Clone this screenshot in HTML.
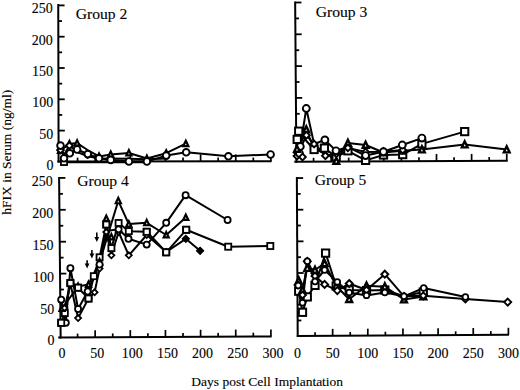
<!DOCTYPE html>
<html><head><meta charset="utf-8"><style>
html,body{margin:0;padding:0;background:#fff;}
body{width:520px;height:390px;overflow:hidden;}
svg{display:block;font-family:"Liberation Serif",serif;}
text{stroke:#000;stroke-width:0.12px;}
text.n{stroke-width:0.12px;}
</style></head><body>
<svg width="520" height="390" viewBox="0 0 520 390">
<line x1="58.25" y1="4.1" x2="58.6" y2="162.45" stroke="#000" stroke-width="2.0"/>
<line x1="57.4" y1="161.45" x2="271.6" y2="161.35" stroke="#000" stroke-width="2.0"/>
<line x1="58.57" y1="146.25" x2="62.27" y2="146.25" stroke="#000" stroke-width="1.8"/>
<line x1="58.53" y1="130.60" x2="64.83" y2="130.60" stroke="#000" stroke-width="1.8"/>
<line x1="58.50" y1="114.95" x2="62.20" y2="114.95" stroke="#000" stroke-width="1.8"/>
<line x1="58.46" y1="99.30" x2="64.76" y2="99.30" stroke="#000" stroke-width="1.8"/>
<line x1="58.43" y1="83.65" x2="62.13" y2="83.65" stroke="#000" stroke-width="1.8"/>
<line x1="58.39" y1="68.00" x2="64.69" y2="68.00" stroke="#000" stroke-width="1.8"/>
<line x1="58.36" y1="52.35" x2="62.06" y2="52.35" stroke="#000" stroke-width="1.8"/>
<line x1="58.32" y1="36.70" x2="64.62" y2="36.70" stroke="#000" stroke-width="1.8"/>
<line x1="58.29" y1="21.05" x2="61.99" y2="21.05" stroke="#000" stroke-width="1.8"/>
<line x1="58.25" y1="5.40" x2="64.55" y2="5.40" stroke="#000" stroke-width="1.8"/>
<line x1="77.58" y1="161.44" x2="77.58" y2="157.64" stroke="#000" stroke-width="1.7"/>
<line x1="95.15" y1="161.43" x2="95.15" y2="154.43" stroke="#000" stroke-width="1.7"/>
<line x1="112.72" y1="161.42" x2="112.72" y2="157.62" stroke="#000" stroke-width="1.7"/>
<line x1="130.30" y1="161.42" x2="130.30" y2="154.42" stroke="#000" stroke-width="1.7"/>
<line x1="147.88" y1="161.41" x2="147.88" y2="157.61" stroke="#000" stroke-width="1.7"/>
<line x1="165.45" y1="161.40" x2="165.45" y2="154.40" stroke="#000" stroke-width="1.7"/>
<line x1="183.02" y1="161.39" x2="183.02" y2="157.59" stroke="#000" stroke-width="1.7"/>
<line x1="200.60" y1="161.38" x2="200.60" y2="154.38" stroke="#000" stroke-width="1.7"/>
<line x1="218.17" y1="161.37" x2="218.17" y2="157.57" stroke="#000" stroke-width="1.7"/>
<line x1="235.75" y1="161.37" x2="235.75" y2="154.37" stroke="#000" stroke-width="1.7"/>
<line x1="253.32" y1="161.36" x2="253.32" y2="157.56" stroke="#000" stroke-width="1.7"/>
<line x1="270.90" y1="161.35" x2="270.90" y2="154.35" stroke="#000" stroke-width="1.7"/>
<text class="n" x="53.50" y="169.90" text-anchor="end" font-size="14">0</text>
<text class="n" x="53.34" y="138.60" text-anchor="end" font-size="14">50</text>
<text class="n" x="53.18" y="107.30" text-anchor="end" font-size="14">100</text>
<text class="n" x="53.02" y="76.00" text-anchor="end" font-size="14">150</text>
<text class="n" x="52.86" y="44.70" text-anchor="end" font-size="14">200</text>
<text class="n" x="52.70" y="13.40" text-anchor="end" font-size="14">250</text>
<line x1="295.15" y1="1.5" x2="296.4" y2="162.7" stroke="#000" stroke-width="2.0"/>
<line x1="294.3" y1="161.7" x2="507.7" y2="160.75" stroke="#000" stroke-width="2.0"/>
<line x1="296.27" y1="145.60" x2="299.97" y2="145.60" stroke="#000" stroke-width="1.8"/>
<line x1="296.15" y1="129.70" x2="302.45" y2="129.70" stroke="#000" stroke-width="1.8"/>
<line x1="296.02" y1="113.80" x2="299.72" y2="113.80" stroke="#000" stroke-width="1.8"/>
<line x1="295.90" y1="97.90" x2="302.20" y2="97.90" stroke="#000" stroke-width="1.8"/>
<line x1="295.77" y1="82.00" x2="299.47" y2="82.00" stroke="#000" stroke-width="1.8"/>
<line x1="295.65" y1="66.10" x2="301.95" y2="66.10" stroke="#000" stroke-width="1.8"/>
<line x1="295.52" y1="50.20" x2="299.22" y2="50.20" stroke="#000" stroke-width="1.8"/>
<line x1="295.40" y1="34.30" x2="301.70" y2="34.30" stroke="#000" stroke-width="1.8"/>
<line x1="295.27" y1="18.40" x2="298.97" y2="18.40" stroke="#000" stroke-width="1.8"/>
<line x1="295.15" y1="2.50" x2="301.45" y2="2.50" stroke="#000" stroke-width="1.8"/>
<line x1="313.56" y1="161.61" x2="313.56" y2="157.81" stroke="#000" stroke-width="1.7"/>
<line x1="331.12" y1="161.54" x2="331.12" y2="154.54" stroke="#000" stroke-width="1.7"/>
<line x1="348.69" y1="161.46" x2="348.69" y2="157.66" stroke="#000" stroke-width="1.7"/>
<line x1="366.25" y1="161.38" x2="366.25" y2="154.38" stroke="#000" stroke-width="1.7"/>
<line x1="383.81" y1="161.30" x2="383.81" y2="157.50" stroke="#000" stroke-width="1.7"/>
<line x1="401.38" y1="161.22" x2="401.38" y2="154.22" stroke="#000" stroke-width="1.7"/>
<line x1="418.94" y1="161.15" x2="418.94" y2="157.35" stroke="#000" stroke-width="1.7"/>
<line x1="436.50" y1="161.07" x2="436.50" y2="154.07" stroke="#000" stroke-width="1.7"/>
<line x1="454.06" y1="160.99" x2="454.06" y2="157.19" stroke="#000" stroke-width="1.7"/>
<line x1="471.62" y1="160.91" x2="471.62" y2="153.91" stroke="#000" stroke-width="1.7"/>
<line x1="489.19" y1="160.83" x2="489.19" y2="157.03" stroke="#000" stroke-width="1.7"/>
<line x1="506.75" y1="160.75" x2="506.75" y2="153.75" stroke="#000" stroke-width="1.7"/>
<line x1="59.1" y1="176.9" x2="60.65" y2="338.5" stroke="#000" stroke-width="2.0"/>
<line x1="58.2" y1="337.5" x2="271.6" y2="336.4" stroke="#000" stroke-width="2.0"/>
<line x1="60.49" y1="321.45" x2="64.19" y2="321.45" stroke="#000" stroke-width="1.8"/>
<line x1="60.34" y1="305.50" x2="66.64" y2="305.50" stroke="#000" stroke-width="1.8"/>
<line x1="60.18" y1="289.55" x2="63.88" y2="289.55" stroke="#000" stroke-width="1.8"/>
<line x1="60.03" y1="273.60" x2="66.33" y2="273.60" stroke="#000" stroke-width="1.8"/>
<line x1="59.87" y1="257.65" x2="63.57" y2="257.65" stroke="#000" stroke-width="1.8"/>
<line x1="59.72" y1="241.70" x2="66.02" y2="241.70" stroke="#000" stroke-width="1.8"/>
<line x1="59.56" y1="225.75" x2="63.26" y2="225.75" stroke="#000" stroke-width="1.8"/>
<line x1="59.41" y1="209.80" x2="65.71" y2="209.80" stroke="#000" stroke-width="1.8"/>
<line x1="59.25" y1="193.85" x2="62.95" y2="193.85" stroke="#000" stroke-width="1.8"/>
<line x1="59.10" y1="177.90" x2="65.40" y2="177.90" stroke="#000" stroke-width="1.8"/>
<line x1="77.58" y1="337.40" x2="77.58" y2="333.60" stroke="#000" stroke-width="1.7"/>
<line x1="95.15" y1="337.31" x2="95.15" y2="330.31" stroke="#000" stroke-width="1.7"/>
<line x1="112.72" y1="337.22" x2="112.72" y2="333.42" stroke="#000" stroke-width="1.7"/>
<line x1="130.30" y1="337.13" x2="130.30" y2="330.13" stroke="#000" stroke-width="1.7"/>
<line x1="147.88" y1="337.04" x2="147.88" y2="333.24" stroke="#000" stroke-width="1.7"/>
<line x1="165.45" y1="336.95" x2="165.45" y2="329.95" stroke="#000" stroke-width="1.7"/>
<line x1="183.02" y1="336.86" x2="183.02" y2="333.06" stroke="#000" stroke-width="1.7"/>
<line x1="200.60" y1="336.77" x2="200.60" y2="329.77" stroke="#000" stroke-width="1.7"/>
<line x1="218.17" y1="336.68" x2="218.17" y2="332.88" stroke="#000" stroke-width="1.7"/>
<line x1="235.75" y1="336.58" x2="235.75" y2="329.58" stroke="#000" stroke-width="1.7"/>
<line x1="253.32" y1="336.49" x2="253.32" y2="332.69" stroke="#000" stroke-width="1.7"/>
<line x1="270.90" y1="336.40" x2="270.90" y2="329.40" stroke="#000" stroke-width="1.7"/>
<text class="n" x="54.60" y="345.40" text-anchor="end" font-size="14">0</text>
<text class="n" x="54.24" y="313.50" text-anchor="end" font-size="14">50</text>
<text class="n" x="53.88" y="281.60" text-anchor="end" font-size="14">100</text>
<text class="n" x="53.52" y="249.70" text-anchor="end" font-size="14">150</text>
<text class="n" x="53.16" y="217.80" text-anchor="end" font-size="14">200</text>
<text class="n" x="52.80" y="185.90" text-anchor="end" font-size="14">250</text>
<line x1="296.85" y1="177.0" x2="297.7" y2="337.1" stroke="#000" stroke-width="2.0"/>
<line x1="296.8" y1="336.1" x2="509.0" y2="334.8" stroke="#000" stroke-width="2.0"/>
<line x1="297.62" y1="320.48" x2="301.32" y2="320.48" stroke="#000" stroke-width="1.8"/>
<line x1="297.53" y1="304.65" x2="303.83" y2="304.65" stroke="#000" stroke-width="1.8"/>
<line x1="297.45" y1="288.82" x2="301.15" y2="288.82" stroke="#000" stroke-width="1.8"/>
<line x1="297.36" y1="273.00" x2="303.66" y2="273.00" stroke="#000" stroke-width="1.8"/>
<line x1="297.28" y1="257.18" x2="300.98" y2="257.18" stroke="#000" stroke-width="1.8"/>
<line x1="297.19" y1="241.35" x2="303.49" y2="241.35" stroke="#000" stroke-width="1.8"/>
<line x1="297.11" y1="225.53" x2="300.81" y2="225.53" stroke="#000" stroke-width="1.8"/>
<line x1="297.02" y1="209.70" x2="303.32" y2="209.70" stroke="#000" stroke-width="1.8"/>
<line x1="296.94" y1="193.88" x2="300.64" y2="193.88" stroke="#000" stroke-width="1.8"/>
<line x1="296.85" y1="178.05" x2="303.15" y2="178.05" stroke="#000" stroke-width="1.8"/>
<line x1="315.07" y1="335.99" x2="315.07" y2="332.19" stroke="#000" stroke-width="1.7"/>
<line x1="332.65" y1="335.88" x2="332.65" y2="328.88" stroke="#000" stroke-width="1.7"/>
<line x1="350.23" y1="335.77" x2="350.23" y2="331.97" stroke="#000" stroke-width="1.7"/>
<line x1="367.80" y1="335.67" x2="367.80" y2="328.67" stroke="#000" stroke-width="1.7"/>
<line x1="385.38" y1="335.56" x2="385.38" y2="331.76" stroke="#000" stroke-width="1.7"/>
<line x1="402.95" y1="335.45" x2="402.95" y2="328.45" stroke="#000" stroke-width="1.7"/>
<line x1="420.52" y1="335.34" x2="420.52" y2="331.54" stroke="#000" stroke-width="1.7"/>
<line x1="438.10" y1="335.23" x2="438.10" y2="328.23" stroke="#000" stroke-width="1.7"/>
<line x1="455.67" y1="335.13" x2="455.67" y2="331.33" stroke="#000" stroke-width="1.7"/>
<line x1="473.25" y1="335.02" x2="473.25" y2="328.02" stroke="#000" stroke-width="1.7"/>
<line x1="490.82" y1="334.91" x2="490.82" y2="331.11" stroke="#000" stroke-width="1.7"/>
<line x1="508.40" y1="334.80" x2="508.40" y2="327.80" stroke="#000" stroke-width="1.7"/>
<text class="n" x="62.00" y="357.8" text-anchor="middle" font-size="14">0</text>
<text class="n" x="97.15" y="357.8" text-anchor="middle" font-size="14">50</text>
<text class="n" x="132.30" y="357.8" text-anchor="middle" font-size="14">100</text>
<text class="n" x="167.45" y="357.8" text-anchor="middle" font-size="14">150</text>
<text class="n" x="202.60" y="357.8" text-anchor="middle" font-size="14">200</text>
<text class="n" x="237.75" y="357.8" text-anchor="middle" font-size="14">250</text>
<text class="n" x="272.90" y="357.8" text-anchor="middle" font-size="14">300</text>
<text class="n" x="297.50" y="357.6" text-anchor="middle" font-size="14">0</text>
<text class="n" x="332.65" y="357.6" text-anchor="middle" font-size="14">50</text>
<text class="n" x="367.80" y="357.6" text-anchor="middle" font-size="14">100</text>
<text class="n" x="402.95" y="357.6" text-anchor="middle" font-size="14">150</text>
<text class="n" x="438.10" y="357.6" text-anchor="middle" font-size="14">200</text>
<text class="n" x="473.25" y="357.6" text-anchor="middle" font-size="14">250</text>
<text class="n" x="508.40" y="357.6" text-anchor="middle" font-size="14">300</text>
<text x="75.8" y="18.6" font-size="15.6">Group 2</text>
<text x="315.7" y="16.7" font-size="15.6">Group 3</text>
<text x="77.2" y="186.2" font-size="15.6">Group 4</text>
<text x="314.8" y="184.5" font-size="15.6">Group 5</text>
<text x="267.2" y="385.8" text-anchor="middle" font-size="13.5">Days post Cell Implantation</text>
<text transform="translate(11,152.2) rotate(-90)" text-anchor="middle" font-size="13.5">hFIX in Serum (ng/ml)</text>
<polyline points="64.00,162.20 70.00,162.20 78.00,162.20 88.00,162.20 99.00,162.20 111.00,162.20 129.00,162.20 147.00,162.20" fill="none" stroke="#000" stroke-width="2.0" stroke-linejoin="round"/>
<polyline points="60.50,150.50 69.40,143.90 77.10,143.10 87.60,150.00 99.00,156.40 110.70,154.40 128.90,153.00 146.90,158.50 166.20,153.20 185.80,143.70" fill="none" stroke="#000" stroke-width="2.0" stroke-linejoin="round"/>
<polyline points="60.50,150.00 64.00,155.00 69.40,145.60 77.00,152.00 87.60,156.00 99.00,158.80 110.70,158.40 128.90,158.80 147.00,159.30 166.20,158.50" fill="none" stroke="#000" stroke-width="2.0" stroke-linejoin="round"/>
<polyline points="60.50,145.60 64.00,158.30 69.80,153.30 77.10,149.50 87.80,154.10 99.00,158.30 110.70,159.90 128.90,161.50 146.90,161.50 166.20,155.60 186.20,152.30 228.40,156.30 270.60,154.50" fill="none" stroke="#000" stroke-width="2.0" stroke-linejoin="round"/>
<rect x="60.95" y="158.95" width="6.10" height="6.10" fill="#fff" stroke="#000" stroke-width="1.80"/>
<polygon points="60.50,147.60 63.05,152.95 57.95,152.95" fill="#fff" stroke="#000" stroke-width="2.20" stroke-linejoin="miter"/>
<polygon points="69.40,141.00 71.95,146.35 66.85,146.35" fill="#fff" stroke="#000" stroke-width="2.20" stroke-linejoin="miter"/>
<polygon points="77.10,140.20 79.65,145.55 74.55,145.55" fill="#fff" stroke="#000" stroke-width="2.20" stroke-linejoin="miter"/>
<polygon points="99.00,153.50 101.55,158.85 96.45,158.85" fill="#fff" stroke="#000" stroke-width="2.20" stroke-linejoin="miter"/>
<polygon points="110.70,151.50 113.25,156.85 108.15,156.85" fill="#fff" stroke="#000" stroke-width="2.20" stroke-linejoin="miter"/>
<polygon points="128.90,150.10 131.45,155.45 126.35,155.45" fill="#fff" stroke="#000" stroke-width="2.20" stroke-linejoin="miter"/>
<polygon points="146.90,155.60 149.45,160.95 144.35,160.95" fill="#fff" stroke="#000" stroke-width="2.20" stroke-linejoin="miter"/>
<polygon points="166.20,150.30 168.75,155.65 163.65,155.65" fill="#fff" stroke="#000" stroke-width="2.20" stroke-linejoin="miter"/>
<polygon points="185.80,140.80 188.35,146.15 183.25,146.15" fill="#fff" stroke="#000" stroke-width="2.20" stroke-linejoin="miter"/>
<polygon points="60.50,146.61 63.89,150.00 60.50,153.39 57.11,150.00" fill="#fff" stroke="#000" stroke-width="1.92"/>
<polygon points="87.60,151.11 90.99,154.50 87.60,157.89 84.21,154.50" fill="#fff" stroke="#000" stroke-width="1.92"/>
<polygon points="69.40,142.21 72.79,145.60 69.40,148.99 66.01,145.60" fill="#fff" stroke="#000" stroke-width="1.92"/>
<circle cx="60.50" cy="145.60" r="3.35" fill="#fff" stroke="#000" stroke-width="1.89"/>
<circle cx="64.00" cy="158.30" r="3.35" fill="#fff" stroke="#000" stroke-width="1.89"/>
<circle cx="69.80" cy="153.30" r="3.35" fill="#fff" stroke="#000" stroke-width="1.89"/>
<circle cx="77.10" cy="149.50" r="3.35" fill="#fff" stroke="#000" stroke-width="1.89"/>
<circle cx="87.80" cy="154.10" r="3.35" fill="#fff" stroke="#000" stroke-width="1.89"/>
<circle cx="99.00" cy="158.30" r="3.35" fill="#fff" stroke="#000" stroke-width="1.89"/>
<circle cx="110.70" cy="159.90" r="3.35" fill="#fff" stroke="#000" stroke-width="1.89"/>
<circle cx="128.90" cy="161.50" r="3.35" fill="#fff" stroke="#000" stroke-width="1.89"/>
<circle cx="146.90" cy="161.50" r="3.35" fill="#fff" stroke="#000" stroke-width="1.89"/>
<circle cx="166.20" cy="155.60" r="3.35" fill="#fff" stroke="#000" stroke-width="1.89"/>
<circle cx="186.20" cy="152.30" r="3.35" fill="#fff" stroke="#000" stroke-width="1.89"/>
<circle cx="228.40" cy="156.30" r="3.35" fill="#fff" stroke="#000" stroke-width="1.89"/>
<circle cx="270.60" cy="154.50" r="3.35" fill="#fff" stroke="#000" stroke-width="1.89"/>
<polyline points="297.20,139.40 298.70,131.20 306.40,141.00 314.10,149.50 324.40,148.10 336.20,157.00 347.90,150.80 365.60,160.40 383.50,155.00 402.70,154.60 421.90,143.90 464.70,131.60" fill="none" stroke="#000" stroke-width="2.0" stroke-linejoin="round"/>
<polyline points="298.00,150.00 306.30,129.60 314.50,150.00 324.60,152.00 336.30,161.00 347.90,143.00 365.60,145.00 383.50,152.50 402.30,150.80 421.90,149.60 464.70,144.60 506.70,149.60" fill="none" stroke="#000" stroke-width="2.0" stroke-linejoin="round"/>
<polyline points="297.00,156.00 306.40,135.30 314.10,144.00 325.40,155.80 336.30,153.70 347.90,147.90 365.60,152.00 383.50,151.70 402.70,150.00" fill="none" stroke="#000" stroke-width="2.0" stroke-linejoin="round"/>
<polyline points="300.30,146.50 306.30,108.50 314.10,144.00 324.90,139.90 336.00,150.80 347.90,147.00 365.60,155.60 383.50,151.70 402.30,145.00 421.90,138.10" fill="none" stroke="#000" stroke-width="2.0" stroke-linejoin="round"/>
<rect x="293.57" y="135.77" width="7.26" height="7.26" fill="#fff" stroke="#000" stroke-width="1.97"/>
<rect x="295.07" y="127.57" width="7.26" height="7.26" fill="#fff" stroke="#000" stroke-width="1.97"/>
<rect x="310.47" y="145.87" width="7.26" height="7.26" fill="#fff" stroke="#000" stroke-width="1.97"/>
<rect x="320.77" y="144.47" width="7.26" height="7.26" fill="#fff" stroke="#000" stroke-width="1.97"/>
<rect x="332.57" y="153.37" width="7.26" height="7.26" fill="#fff" stroke="#000" stroke-width="1.97"/>
<rect x="344.27" y="147.17" width="7.26" height="7.26" fill="#fff" stroke="#000" stroke-width="1.97"/>
<rect x="361.97" y="156.77" width="7.26" height="7.26" fill="#fff" stroke="#000" stroke-width="1.97"/>
<rect x="379.87" y="151.37" width="7.26" height="7.26" fill="#fff" stroke="#000" stroke-width="1.97"/>
<rect x="399.07" y="150.97" width="7.26" height="7.26" fill="#fff" stroke="#000" stroke-width="1.97"/>
<rect x="418.27" y="140.27" width="7.26" height="7.26" fill="#fff" stroke="#000" stroke-width="1.97"/>
<rect x="461.07" y="127.97" width="7.26" height="7.26" fill="#fff" stroke="#000" stroke-width="1.97"/>
<polygon points="298.00,146.69 300.91,152.79 295.09,152.79" fill="#fff" stroke="#000" stroke-width="2.35" stroke-linejoin="miter"/>
<polygon points="306.30,126.29 309.21,132.39 303.39,132.39" fill="#fff" stroke="#000" stroke-width="2.35" stroke-linejoin="miter"/>
<polygon points="336.30,157.69 339.21,163.79 333.39,163.79" fill="#fff" stroke="#000" stroke-width="2.35" stroke-linejoin="miter"/>
<polygon points="347.90,139.69 350.81,145.79 344.99,145.79" fill="#fff" stroke="#000" stroke-width="2.35" stroke-linejoin="miter"/>
<polygon points="365.60,141.69 368.51,147.79 362.69,147.79" fill="#fff" stroke="#000" stroke-width="2.35" stroke-linejoin="miter"/>
<polygon points="383.50,149.19 386.41,155.29 380.59,155.29" fill="#fff" stroke="#000" stroke-width="2.35" stroke-linejoin="miter"/>
<polygon points="402.30,147.49 405.21,153.59 399.39,153.59" fill="#fff" stroke="#000" stroke-width="2.35" stroke-linejoin="miter"/>
<polygon points="421.90,146.29 424.81,152.39 418.99,152.39" fill="#fff" stroke="#000" stroke-width="2.35" stroke-linejoin="miter"/>
<polygon points="464.70,141.29 467.61,147.39 461.79,147.39" fill="#fff" stroke="#000" stroke-width="2.35" stroke-linejoin="miter"/>
<polygon points="506.70,146.29 509.61,152.39 503.79,152.39" fill="#fff" stroke="#000" stroke-width="2.35" stroke-linejoin="miter"/>
<polygon points="297.00,152.64 300.36,156.00 297.00,159.36 293.64,156.00" fill="#fff" stroke="#000" stroke-width="1.91"/>
<polygon points="306.40,131.94 309.76,135.30 306.40,138.66 303.04,135.30" fill="#fff" stroke="#000" stroke-width="1.91"/>
<polygon points="314.10,140.64 317.46,144.00 314.10,147.36 310.74,144.00" fill="#fff" stroke="#000" stroke-width="1.91"/>
<polygon points="325.40,152.44 328.76,155.80 325.40,159.16 322.04,155.80" fill="#fff" stroke="#000" stroke-width="1.91"/>
<polygon points="336.30,150.34 339.66,153.70 336.30,157.06 332.94,153.70" fill="#fff" stroke="#000" stroke-width="1.91"/>
<polygon points="347.90,144.54 351.26,147.90 347.90,151.26 344.54,147.90" fill="#fff" stroke="#000" stroke-width="1.91"/>
<polygon points="365.60,148.64 368.96,152.00 365.60,155.36 362.24,152.00" fill="#fff" stroke="#000" stroke-width="1.91"/>
<polygon points="383.50,148.34 386.86,151.70 383.50,155.06 380.14,151.70" fill="#fff" stroke="#000" stroke-width="1.91"/>
<polygon points="402.70,146.64 406.06,150.00 402.70,153.36 399.34,150.00" fill="#fff" stroke="#000" stroke-width="1.91"/>
<circle cx="300.30" cy="146.50" r="3.45" fill="#fff" stroke="#000" stroke-width="1.92"/>
<circle cx="306.30" cy="108.50" r="3.45" fill="#fff" stroke="#000" stroke-width="1.92"/>
<circle cx="324.90" cy="139.90" r="3.45" fill="#fff" stroke="#000" stroke-width="1.92"/>
<circle cx="336.00" cy="150.80" r="3.45" fill="#fff" stroke="#000" stroke-width="1.92"/>
<circle cx="365.60" cy="155.60" r="3.45" fill="#fff" stroke="#000" stroke-width="1.92"/>
<circle cx="383.50" cy="151.70" r="3.45" fill="#fff" stroke="#000" stroke-width="1.92"/>
<circle cx="402.30" cy="145.00" r="3.45" fill="#fff" stroke="#000" stroke-width="1.92"/>
<circle cx="421.90" cy="138.10" r="3.45" fill="#fff" stroke="#000" stroke-width="1.92"/>
<circle cx="299.50" cy="153.50" r="3.45" fill="#fff" stroke="#000" stroke-width="1.92"/>
<polygon points="302.50,153.64 305.86,157.00 302.50,160.36 299.14,157.00" fill="#fff" stroke="#000" stroke-width="1.91"/>
<polygon points="297.00,145.69 299.91,151.79 294.09,151.79" fill="#fff" stroke="#000" stroke-width="2.35" stroke-linejoin="miter"/>
<polyline points="61.20,322.80 64.80,313.00 70.40,283.10 78.10,287.70 88.50,298.50 93.80,276.20 99.60,257.30 106.30,224.50 111.40,248.10 118.60,223.00 128.80,231.20 146.70,231.80 166.20,252.30 186.20,229.80 228.20,246.70 270.30,246.00" fill="none" stroke="#000" stroke-width="2.0" stroke-linejoin="round"/>
<polyline points="62.00,308.50 78.10,286.50 88.50,284.50 99.60,262.00 118.30,200.80 128.80,224.10 146.70,222.80 166.20,235.00 185.80,217.50" fill="none" stroke="#000" stroke-width="2.0" stroke-linejoin="round"/>
<polyline points="64.50,308.00 70.40,284.00 78.10,318.10 88.50,298.50 94.60,292.30 99.60,268.60 106.30,232.00 111.40,255.30 118.60,232.00 128.80,255.30 146.70,235.00 166.20,252.00 185.80,238.80 200.10,250.80" fill="none" stroke="#000" stroke-width="2.0" stroke-linejoin="round"/>
<polyline points="61.20,299.70 65.80,322.80 70.40,268.20 78.10,309.00 87.70,291.50 99.60,264.50 106.30,231.00 118.60,229.30 128.50,238.80 146.70,244.60 166.20,222.80 185.60,195.20 227.60,220.00" fill="none" stroke="#000" stroke-width="2.0" stroke-linejoin="round"/>
<rect x="58.15" y="319.75" width="6.10" height="6.10" fill="#fff" stroke="#000" stroke-width="1.80"/>
<rect x="61.75" y="309.95" width="6.10" height="6.10" fill="#fff" stroke="#000" stroke-width="1.80"/>
<rect x="67.35" y="280.05" width="6.10" height="6.10" fill="#fff" stroke="#000" stroke-width="1.80"/>
<rect x="75.05" y="284.65" width="6.10" height="6.10" fill="#fff" stroke="#000" stroke-width="1.80"/>
<rect x="85.45" y="295.45" width="6.10" height="6.10" fill="#fff" stroke="#000" stroke-width="1.80"/>
<rect x="90.75" y="273.15" width="6.10" height="6.10" fill="#fff" stroke="#000" stroke-width="1.80"/>
<rect x="96.55" y="254.25" width="6.10" height="6.10" fill="#fff" stroke="#000" stroke-width="1.80"/>
<rect x="103.25" y="221.45" width="6.10" height="6.10" fill="#fff" stroke="#000" stroke-width="1.80"/>
<rect x="108.35" y="245.05" width="6.10" height="6.10" fill="#fff" stroke="#000" stroke-width="1.80"/>
<rect x="115.55" y="219.95" width="6.10" height="6.10" fill="#fff" stroke="#000" stroke-width="1.80"/>
<rect x="125.75" y="228.15" width="6.10" height="6.10" fill="#fff" stroke="#000" stroke-width="1.80"/>
<rect x="143.65" y="228.75" width="6.10" height="6.10" fill="#fff" stroke="#000" stroke-width="1.80"/>
<rect x="163.15" y="249.25" width="6.10" height="6.10" fill="#fff" stroke="#000" stroke-width="1.80"/>
<rect x="183.15" y="226.75" width="6.10" height="6.10" fill="#fff" stroke="#000" stroke-width="1.80"/>
<rect x="225.15" y="243.65" width="6.10" height="6.10" fill="#fff" stroke="#000" stroke-width="1.80"/>
<rect x="267.25" y="242.95" width="6.10" height="6.10" fill="#fff" stroke="#000" stroke-width="1.80"/>
<polygon points="62.00,305.60 64.55,310.95 59.45,310.95" fill="#fff" stroke="#000" stroke-width="2.20" stroke-linejoin="miter"/>
<polygon points="78.10,283.60 80.65,288.95 75.55,288.95" fill="#fff" stroke="#000" stroke-width="2.20" stroke-linejoin="miter"/>
<polygon points="88.50,281.60 91.05,286.95 85.95,286.95" fill="#fff" stroke="#000" stroke-width="2.20" stroke-linejoin="miter"/>
<polygon points="99.60,259.10 102.15,264.45 97.05,264.45" fill="#fff" stroke="#000" stroke-width="2.20" stroke-linejoin="miter"/>
<polygon points="118.30,197.90 120.85,203.25 115.75,203.25" fill="#fff" stroke="#000" stroke-width="2.20" stroke-linejoin="miter"/>
<polygon points="128.80,221.20 131.35,226.55 126.25,226.55" fill="#fff" stroke="#000" stroke-width="2.20" stroke-linejoin="miter"/>
<polygon points="146.70,219.90 149.25,225.25 144.15,225.25" fill="#fff" stroke="#000" stroke-width="2.20" stroke-linejoin="miter"/>
<polygon points="166.20,232.10 168.75,237.45 163.65,237.45" fill="#fff" stroke="#000" stroke-width="2.20" stroke-linejoin="miter"/>
<polygon points="185.80,214.60 188.35,219.95 183.25,219.95" fill="#fff" stroke="#000" stroke-width="2.20" stroke-linejoin="miter"/>
<polygon points="64.50,305.00 67.50,308.00 64.50,311.00 61.50,308.00" fill="#fff" stroke="#000" stroke-width="1.80"/>
<polygon points="70.40,281.00 73.40,284.00 70.40,287.00 67.40,284.00" fill="#fff" stroke="#000" stroke-width="1.80"/>
<polygon points="78.10,315.10 81.10,318.10 78.10,321.10 75.10,318.10" fill="#fff" stroke="#000" stroke-width="1.80"/>
<polygon points="88.50,295.50 91.50,298.50 88.50,301.50 85.50,298.50" fill="#fff" stroke="#000" stroke-width="1.80"/>
<polygon points="94.60,289.30 97.60,292.30 94.60,295.30 91.60,292.30" fill="#fff" stroke="#000" stroke-width="1.80"/>
<polygon points="99.60,265.60 102.60,268.60 99.60,271.60 96.60,268.60" fill="#fff" stroke="#000" stroke-width="1.80"/>
<polygon points="106.30,229.00 109.30,232.00 106.30,235.00 103.30,232.00" fill="#fff" stroke="#000" stroke-width="1.80"/>
<polygon points="111.40,252.30 114.40,255.30 111.40,258.30 108.40,255.30" fill="#fff" stroke="#000" stroke-width="1.80"/>
<polygon points="118.60,229.00 121.60,232.00 118.60,235.00 115.60,232.00" fill="#fff" stroke="#000" stroke-width="1.80"/>
<polygon points="128.80,252.30 131.80,255.30 128.80,258.30 125.80,255.30" fill="#fff" stroke="#000" stroke-width="1.80"/>
<polygon points="146.70,232.00 149.70,235.00 146.70,238.00 143.70,235.00" fill="#fff" stroke="#000" stroke-width="1.80"/>
<polygon points="166.20,249.00 169.20,252.00 166.20,255.00 163.20,252.00" fill="#fff" stroke="#000" stroke-width="1.80"/>
<polygon points="185.80,235.80 188.80,238.80 185.80,241.80 182.80,238.80" fill="#fff" stroke="#000" stroke-width="1.80"/>
<polygon points="200.10,247.80 203.10,250.80 200.10,253.80 197.10,250.80" fill="#fff" stroke="#000" stroke-width="1.80"/>
<circle cx="61.20" cy="299.70" r="3.05" fill="#fff" stroke="#000" stroke-width="1.80"/>
<circle cx="65.80" cy="322.80" r="3.05" fill="#fff" stroke="#000" stroke-width="1.80"/>
<circle cx="70.40" cy="268.20" r="3.05" fill="#fff" stroke="#000" stroke-width="1.80"/>
<circle cx="78.10" cy="309.00" r="3.05" fill="#fff" stroke="#000" stroke-width="1.80"/>
<circle cx="87.70" cy="291.50" r="3.05" fill="#fff" stroke="#000" stroke-width="1.80"/>
<circle cx="99.60" cy="264.50" r="3.05" fill="#fff" stroke="#000" stroke-width="1.80"/>
<circle cx="118.60" cy="229.30" r="3.05" fill="#fff" stroke="#000" stroke-width="1.80"/>
<circle cx="128.50" cy="238.80" r="3.05" fill="#fff" stroke="#000" stroke-width="1.80"/>
<circle cx="146.70" cy="244.60" r="3.05" fill="#fff" stroke="#000" stroke-width="1.80"/>
<circle cx="166.20" cy="222.80" r="3.05" fill="#fff" stroke="#000" stroke-width="1.80"/>
<circle cx="185.60" cy="195.20" r="3.05" fill="#fff" stroke="#000" stroke-width="1.80"/>
<circle cx="227.60" cy="220.00" r="3.05" fill="#fff" stroke="#000" stroke-width="1.80"/>
<rect x="75.05" y="284.65" width="6.10" height="6.10" fill="#fff" stroke="#000" stroke-width="1.80"/>
<rect x="85.45" y="295.45" width="6.10" height="6.10" fill="#fff" stroke="#000" stroke-width="1.80"/>
<rect x="58.15" y="319.75" width="6.10" height="6.10" fill="#fff" stroke="#000" stroke-width="1.80"/>
<rect x="67.35" y="280.05" width="6.10" height="6.10" fill="#fff" stroke="#000" stroke-width="1.80"/>
<polygon points="106.30,215.60 108.85,220.95 103.75,220.95" fill="#fff" stroke="#000" stroke-width="2.20" stroke-linejoin="miter"/>
<rect x="103.25" y="221.45" width="6.10" height="6.10" fill="#fff" stroke="#000" stroke-width="1.80"/>
<polygon points="111.40,234.10 113.95,239.45 108.85,239.45" fill="#fff" stroke="#000" stroke-width="2.20" stroke-linejoin="miter"/>
<rect x="143.65" y="228.75" width="6.10" height="6.10" fill="#fff" stroke="#000" stroke-width="1.80"/>
<rect x="163.15" y="249.25" width="6.10" height="6.10" fill="#fff" stroke="#000" stroke-width="1.80"/>
<rect x="183.15" y="226.75" width="6.10" height="6.10" fill="#fff" stroke="#000" stroke-width="1.80"/>
<polygon points="185.80,235.90 188.70,238.80 185.80,241.70 182.90,238.80" fill="#000" stroke="#000" stroke-width="1.80"/>
<polygon points="200.10,247.90 203.00,250.80 200.10,253.70 197.20,250.80" fill="#000" stroke="#000" stroke-width="1.80"/>
<line x1="87.1" y1="260.2" x2="87.1" y2="264.6" stroke="#000" stroke-width="1.6"/>
<polygon points="84.69999999999999,263.6 89.5,263.6 87.1,268.6" fill="#000"/>
<line x1="91.9" y1="250" x2="91.9" y2="254.5" stroke="#000" stroke-width="1.6"/>
<polygon points="89.5,253.5 94.30000000000001,253.5 91.9,258.5" fill="#000"/>
<line x1="96.8" y1="232.5" x2="96.8" y2="238.1" stroke="#000" stroke-width="1.6"/>
<polygon points="94.39999999999999,237.1 99.2,237.1 96.8,242.1" fill="#000"/>
<polyline points="298.70,291.20 302.50,312.30 307.30,296.90 315.00,285.40 325.60,253.10 336.20,286.00 349.20,290.00 366.50,290.60 384.80,290.00 404.00,296.30 423.30,292.00" fill="none" stroke="#000" stroke-width="2.0" stroke-linejoin="round"/>
<polyline points="298.70,280.60 302.50,290.00 307.30,268.00 315.00,270.00 324.60,263.30 336.20,286.00 349.20,299.20 366.50,285.80 384.80,286.70 404.00,299.50 423.30,296.50" fill="none" stroke="#000" stroke-width="2.0" stroke-linejoin="round"/>
<polyline points="298.00,285.00 302.50,295.00 307.30,261.30 315.00,276.00 324.60,284.40 337.30,290.60 349.20,283.50 366.50,290.00 384.80,274.20 404.00,296.30 423.30,295.80 465.40,299.00 507.70,302.10" fill="none" stroke="#000" stroke-width="2.0" stroke-linejoin="round"/>
<polyline points="298.20,285.50 302.50,302.70 307.30,261.30 315.00,281.50 324.60,270.00 337.30,281.90 349.20,292.50 366.50,295.40 384.80,292.50 404.00,296.30 423.70,288.00 465.40,297.00" fill="none" stroke="#000" stroke-width="2.0" stroke-linejoin="round"/>
<rect x="295.07" y="287.57" width="7.26" height="7.26" fill="#fff" stroke="#000" stroke-width="1.97"/>
<rect x="298.87" y="308.67" width="7.26" height="7.26" fill="#fff" stroke="#000" stroke-width="1.97"/>
<rect x="303.67" y="293.27" width="7.26" height="7.26" fill="#fff" stroke="#000" stroke-width="1.97"/>
<rect x="311.37" y="281.77" width="7.26" height="7.26" fill="#fff" stroke="#000" stroke-width="1.97"/>
<rect x="321.97" y="249.47" width="7.26" height="7.26" fill="#fff" stroke="#000" stroke-width="1.97"/>
<rect x="332.57" y="282.37" width="7.26" height="7.26" fill="#fff" stroke="#000" stroke-width="1.97"/>
<rect x="345.57" y="286.37" width="7.26" height="7.26" fill="#fff" stroke="#000" stroke-width="1.97"/>
<rect x="362.87" y="286.97" width="7.26" height="7.26" fill="#fff" stroke="#000" stroke-width="1.97"/>
<rect x="381.17" y="286.37" width="7.26" height="7.26" fill="#fff" stroke="#000" stroke-width="1.97"/>
<rect x="419.67" y="288.37" width="7.26" height="7.26" fill="#fff" stroke="#000" stroke-width="1.97"/>
<polygon points="298.70,277.24 301.66,283.44 295.74,283.44" fill="#fff" stroke="#000" stroke-width="2.38" stroke-linejoin="miter"/>
<polygon points="302.50,286.64 305.46,292.84 299.54,292.84" fill="#fff" stroke="#000" stroke-width="2.38" stroke-linejoin="miter"/>
<polygon points="307.30,264.64 310.26,270.84 304.34,270.84" fill="#fff" stroke="#000" stroke-width="2.38" stroke-linejoin="miter"/>
<polygon points="315.00,266.64 317.96,272.84 312.04,272.84" fill="#fff" stroke="#000" stroke-width="2.38" stroke-linejoin="miter"/>
<polygon points="324.60,259.94 327.56,266.14 321.64,266.14" fill="#fff" stroke="#000" stroke-width="2.38" stroke-linejoin="miter"/>
<polygon points="336.20,282.64 339.16,288.84 333.24,288.84" fill="#fff" stroke="#000" stroke-width="2.38" stroke-linejoin="miter"/>
<polygon points="349.20,295.84 352.16,302.04 346.24,302.04" fill="#fff" stroke="#000" stroke-width="2.38" stroke-linejoin="miter"/>
<polygon points="366.50,282.44 369.46,288.64 363.54,288.64" fill="#fff" stroke="#000" stroke-width="2.38" stroke-linejoin="miter"/>
<polygon points="384.80,283.34 387.76,289.54 381.84,289.54" fill="#fff" stroke="#000" stroke-width="2.38" stroke-linejoin="miter"/>
<polygon points="404.00,296.14 406.96,302.34 401.04,302.34" fill="#fff" stroke="#000" stroke-width="2.38" stroke-linejoin="miter"/>
<polygon points="423.30,293.14 426.26,299.34 420.34,299.34" fill="#fff" stroke="#000" stroke-width="2.38" stroke-linejoin="miter"/>
<polygon points="298.00,281.52 301.48,285.00 298.00,288.48 294.52,285.00" fill="#fff" stroke="#000" stroke-width="1.94"/>
<polygon points="302.50,291.52 305.98,295.00 302.50,298.48 299.02,295.00" fill="#fff" stroke="#000" stroke-width="1.94"/>
<polygon points="307.30,257.82 310.78,261.30 307.30,264.78 303.82,261.30" fill="#fff" stroke="#000" stroke-width="1.94"/>
<polygon points="315.00,272.52 318.48,276.00 315.00,279.48 311.52,276.00" fill="#fff" stroke="#000" stroke-width="1.94"/>
<polygon points="324.60,280.92 328.08,284.40 324.60,287.88 321.12,284.40" fill="#fff" stroke="#000" stroke-width="1.94"/>
<polygon points="337.30,287.12 340.78,290.60 337.30,294.08 333.82,290.60" fill="#fff" stroke="#000" stroke-width="1.94"/>
<polygon points="349.20,280.02 352.68,283.50 349.20,286.98 345.72,283.50" fill="#fff" stroke="#000" stroke-width="1.94"/>
<polygon points="366.50,286.52 369.98,290.00 366.50,293.48 363.02,290.00" fill="#fff" stroke="#000" stroke-width="1.94"/>
<polygon points="384.80,270.72 388.28,274.20 384.80,277.68 381.32,274.20" fill="#fff" stroke="#000" stroke-width="1.94"/>
<polygon points="404.00,292.82 407.48,296.30 404.00,299.78 400.52,296.30" fill="#fff" stroke="#000" stroke-width="1.94"/>
<polygon points="423.30,292.32 426.78,295.80 423.30,299.28 419.82,295.80" fill="#fff" stroke="#000" stroke-width="1.94"/>
<polygon points="465.40,295.52 468.88,299.00 465.40,302.48 461.92,299.00" fill="#fff" stroke="#000" stroke-width="1.94"/>
<polygon points="507.70,298.62 511.18,302.10 507.70,305.58 504.22,302.10" fill="#fff" stroke="#000" stroke-width="1.94"/>
<circle cx="298.20" cy="285.50" r="2.84" fill="#fff" stroke="#000" stroke-width="1.74"/>
<circle cx="302.50" cy="302.70" r="2.84" fill="#fff" stroke="#000" stroke-width="1.74"/>
<circle cx="307.30" cy="261.30" r="2.84" fill="#fff" stroke="#000" stroke-width="1.74"/>
<circle cx="315.00" cy="281.50" r="2.84" fill="#fff" stroke="#000" stroke-width="1.74"/>
<circle cx="324.60" cy="270.00" r="2.84" fill="#fff" stroke="#000" stroke-width="1.74"/>
<circle cx="337.30" cy="281.90" r="2.84" fill="#fff" stroke="#000" stroke-width="1.74"/>
<circle cx="349.20" cy="292.50" r="2.84" fill="#fff" stroke="#000" stroke-width="1.74"/>
<circle cx="366.50" cy="295.40" r="2.84" fill="#fff" stroke="#000" stroke-width="1.74"/>
<circle cx="384.80" cy="292.50" r="2.84" fill="#fff" stroke="#000" stroke-width="1.74"/>
<circle cx="404.00" cy="296.30" r="2.84" fill="#fff" stroke="#000" stroke-width="1.74"/>
<circle cx="423.70" cy="288.00" r="2.84" fill="#fff" stroke="#000" stroke-width="1.74"/>
<circle cx="465.40" cy="297.00" r="2.84" fill="#fff" stroke="#000" stroke-width="1.74"/>
</svg>
</body></html>
